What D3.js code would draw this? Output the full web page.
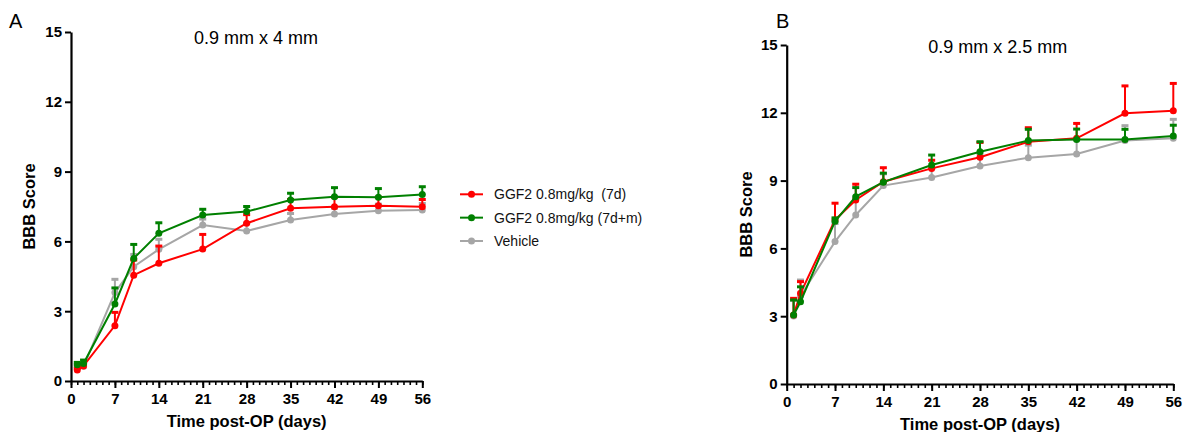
<!DOCTYPE html>
<html>
<head>
<meta charset="utf-8">
<script src="https://cdn.jsdelivr.net/npm/d3@7"></script>
<style>
  body { margin: 0; background: #fff; }
  svg { display: block; font-family: "Liberation Sans", Arial, sans-serif; }
  .tick text { font-weight: bold; font-size: 15px; fill: #000; }
</style>
</head>
<body>
<div id="chart"></div>
<script>
let width = 1184;
let height = 432;

// days measured
let days = [1, 2, 7, 10, 14, 21, 28, 35, 42, 49, 56];
let xTicks = [0, 7, 14, 21, 28, 35, 42, 49, 56];
let yTicks = [0, 3, 6, 9, 12, 15];

let seriesNames = ["GGF2 0.8mg/kg  (7d)", "GGF2 0.8mg/kg (7d+m)", "Vehicle"];
let seriesColors = ["#ff0000", "#008000", "#a6a6a6"];

// panel A: 0.9 mm x 4 mm  (mean, upper error)
let aRed = [0.47, 0.65, 2.38, 4.55, 5.06, 5.67, 6.78, 7.42, 7.49, 7.53, 7.49];
let aRedErr = [0.55, 0.75, 2.95, 5.2, 5.8, 6.3, 7.15, 7.8, 7.9, 7.9, 7.8];
let aGreen = [0.7, 0.75, 3.31, 5.27, 6.35, 7.13, 7.28, 7.78, 7.92, 7.9, 8.02];
let aGreenErr = [0.8, 0.9, 4.0, 5.87, 6.8, 7.38, 7.5, 8.07, 8.31, 8.27, 8.35];
let aGray = [0.61, 0.63, 3.8, 4.91, 5.66, 6.7, 6.45, 6.92, 7.18, 7.32, 7.35];
let aGrayErr = [0.7, 0.72, 4.37, 5.44, 6.09, 6.96, 6.78, 7.2, 7.43, 7.6, 7.63];

// panel B: 0.9 mm x 2.5 mm
let bRed = [3.05, 4.01, 7.26, 8.14, 8.95, 9.54, 10.03, 10.72, 10.87, 11.98, 12.09];
let bRedErr = [3.79, 4.53, 8.0, 8.84, 9.57, 9.9, 10.69, 11.34, 11.53, 13.19, 13.3];
let bGreen = [3.05, 3.64, 7.2, 8.29, 8.93, 9.69, 10.28, 10.77, 10.82, 10.82, 10.97];
let bGreenErr = [3.72, 4.3, 7.35, 8.69, 9.33, 10.13, 10.72, 11.27, 11.28, 11.27, 11.45];
let bGray = [3.01, 3.89, 6.3, 7.48, 8.78, 9.14, 9.65, 10.01, 10.18, 10.77, 10.87];
let bGrayErr = [3.7, 4.6, 7.1, 8.2, 9.3, 9.54, 10.2, 10.57, 10.8, 11.43, 11.71];

let svg = d3.select("#chart").append("svg")
  .attr("width", width)
  .attr("height", height);

function drawPanel(p) {
  const x = d3.scaleLinear().domain([0, 56]).range([p.left, p.right]);
  const y = d3.scaleLinear().domain([0, 15]).range([p.bottom, p.top]);
  const g = svg.append("g");

  // minor ticks every day
  g.append("g")
    .attr("transform", `translate(0,${p.bottom})`)
    .call(d3.axisBottom(x).tickValues(d3.range(0, 57)).tickSize(4).tickFormat(""))
    .call(a => a.select(".domain").remove())
    .selectAll("line").attr("stroke-width", 1.6);

  g.append("g")
    .attr("transform", `translate(0,${p.bottom})`)
    .call(d3.axisBottom(x).tickValues(xTicks).tickSize(7).tickSizeOuter(0).tickPadding(5))
    .call(a => a.select(".domain").attr("stroke-width", 2.2))
    .selectAll("line").attr("stroke-width", 2);

  g.append("g")
    .attr("transform", `translate(${p.left},0)`)
    .call(d3.axisLeft(y).tickValues(yTicks).tickSize(6).tickSizeOuter(0).tickPadding(3))
    .call(a => a.select(".domain").attr("stroke-width", 2.2))
    .selectAll("line").attr("stroke-width", 2);

  g.selectAll(".tick text").attr("font-family", "Liberation Sans, Arial, sans-serif");

  // axis titles
  g.append("text")
    .attr("x", (p.left + p.right) / 2)
    .attr("y", p.bottom + 46)
    .attr("text-anchor", "middle")
    .attr("font-weight", "bold")
    .attr("font-size", "16.5px")
    .text("Time post-OP (days)");

  g.append("text")
    .attr("transform", `translate(${p.ylabelX},${(p.top + p.bottom) / 2}) rotate(-90)`)
    .attr("text-anchor", "middle")
    .attr("dominant-baseline", "middle")
    .attr("font-weight", "bold")
    .attr("font-size", "16.5px")
    .text("BBB Score");

  g.append("text")
    .attr("x", p.titleX)
    .attr("y", p.titleY)
    .attr("text-anchor", "middle")
    .attr("font-size", "18px")
    .text(p.title);

  g.append("text")
    .attr("x", p.letterX)
    .attr("y", 28)
    .attr("font-size", "20px")
    .text(p.letter);

  const line = d3.line().x((d, i) => x(days[i])).y(d => y(d));

  // draw vehicle first, then treatments
  [2, 0, 1].forEach(k => {
    const s = p.series[k];
    const c = seriesColors[k];
    const sg = g.append("g");

    sg.selectAll(".err")
      .data(s.err)
      .join("line")
      .attr("x1", (d, i) => x(days[i]))
      .attr("x2", (d, i) => x(days[i]))
      .attr("y1", (d, i) => y(s.mean[i]))
      .attr("y2", d => y(d))
      .attr("stroke", c)
      .attr("stroke-width", 2);

    sg.selectAll(".cap")
      .data(s.err)
      .join("line")
      .attr("x1", (d, i) => x(days[i]) - 3.5)
      .attr("x2", (d, i) => x(days[i]) + 3.5)
      .attr("y1", d => y(d))
      .attr("y2", d => y(d))
      .attr("stroke", c)
      .attr("stroke-width", 3);

    sg.append("path")
      .datum(s.mean)
      .attr("d", line)
      .attr("fill", "none")
      .attr("stroke", c)
      .attr("stroke-width", 2);

    sg.selectAll("circle")
      .data(s.mean)
      .join("circle")
      .attr("cx", (d, i) => x(days[i]))
      .attr("cy", d => y(d))
      .attr("r", 3.5)
      .attr("fill", c);
  });
}

drawPanel({
  left: 71, right: 422.3, top: 32, bottom: 381,
  ylabelX: 31, titleX: 256, titleY: 44, letter: "A", letterX: 9,
  title: "0.9 mm x 4 mm",
  series: [
    { mean: aRed, err: aRedErr },
    { mean: aGreen, err: aGreenErr },
    { mean: aGray, err: aGrayErr }
  ]
});

drawPanel({
  left: 786.7, right: 1173.3, top: 45, bottom: 384,
  ylabelX: 748, titleX: 997.7, titleY: 53, letter: "B", letterX: 776,
  title: "0.9 mm x 2.5 mm",
  series: [
    { mean: bRed, err: bRedErr },
    { mean: bGreen, err: bGreenErr },
    { mean: bGray, err: bGrayErr }
  ]
});

// legend
let legend = svg.append("g");
let legendY = d3.scalePoint().domain(seriesNames).range([194.3, 241]);

legend.selectAll("line")
  .data(seriesNames)
  .join("line")
  .attr("x1", 460)
  .attr("x2", 483)
  .attr("y1", d => legendY(d))
  .attr("y2", d => legendY(d))
  .attr("stroke", (d, i) => seriesColors[i])
  .attr("stroke-width", 2);

legend.selectAll("circle")
  .data(seriesNames)
  .join("circle")
  .attr("cx", 471.5)
  .attr("cy", d => legendY(d))
  .attr("r", 3.5)
  .attr("fill", (d, i) => seriesColors[i]);

legend.selectAll("text")
  .data(seriesNames)
  .join("text")
  .attr("x", 494)
  .attr("y", d => legendY(d))
  .attr("dominant-baseline", "central")
  .attr("font-size", "14px")
  .attr("fill", "#111")
  .style("white-space", "pre")
  .text(d => d);
</script>
</body>
</html>
